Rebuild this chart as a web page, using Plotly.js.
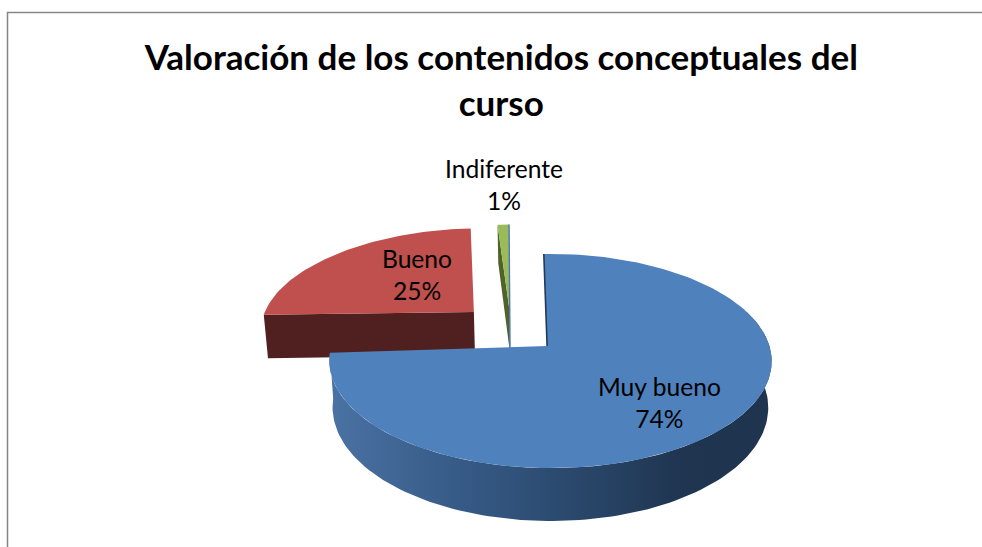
<!DOCTYPE html>
<html>
<head>
<meta charset="utf-8">
<script src="https://cdn.plot.ly/plotly-3.0.1.min.js"></script>
<style>html,body{margin:0;padding:0;background:#fff;overflow:hidden}#chart{width:982px;height:547px}</style>
</head>
<body>
<div id="chart"></div>
<script>
// data
const categories = ['Muy bueno', 'Bueno', 'Indiferente'];
const values = [74, 25, 1];
const titleLines = ['Valoración de los contenidos conceptuales del', 'curso'];

// styling of each slice
const topColors = ['#4f81bd', '#c0504d', '#9bbb59'];
const faceColors = ['#1f3a5c', '#4f201f', '#4f6228'];
const pulls = [[0.02, 0], [-0.345, -0.33], [-0.175, -0.38]];
const apexNudge = [[-0.015, 0], [0, -0.01], [0, 0.02]];
const turn = [-1.8, 2.5, -1.5];
const labelAt = [[659, 402.5], [416.5, 274], [504, 184]];

// view of the tilted disc
const CX = 546, CY = 346, RX = 219, RY = 105, P = 0.14, DEPTH = 45.5, SHRINK = 0.985;
function project(u, v, low) {
  const w = 1 - P * v;
  let x = CX + RX * u / w, y = CY + RY * v / w;
  if (low) { x = CX + (x - CX) * SHRINK; y += DEPTH / w; }
  return [x, y];
}
function ringPoint(i, deg, low) {
  const a = deg * Math.PI / 180;
  return project(pulls[i][0] + Math.sin(a), pulls[i][1] - Math.cos(a), low);
}
function apex(i, low) { return project(pulls[i][0] + apexNudge[i][0], pulls[i][1] + apexNudge[i][1], low); }
function arc(i, a0, a1, low) {
  const pts = [], n = Math.max(2, Math.ceil(Math.abs(a1 - a0) / 1.5));
  for (let k = 0; k <= n; k++) pts.push(ringPoint(i, a0 + (a1 - a0) * k / n, low));
  return pts;
}
function poly(name, pts, extra) {
  return Object.assign({
    type: 'scatter', mode: 'lines', name: name, hoverinfo: 'skip', showlegend: false,
    x: pts.map(p => p[0]), y: pts.map(p => p[1]), fill: 'toself', line: {width: 0}
  }, extra);
}

// slice angles, clockwise: first slice starts at the top
const total = values.reduce((a, b) => a + b, 0);
const spans = [];
let from = 0;
values.forEach((v, i) => {
  const sweep = v / total * 360;
  spans.push([from + turn[i], from + sweep + (i === 2 ? turn[i] : 0)]);
  from += sweep;
});

const traces = [];
// Bueno
traces.push(poly(categories[1] + ' cara', [ringPoint(1, spans[1][0], false), apex(1, false), apex(1, true), ringPoint(1, spans[1][0], true)], {fillcolor: faceColors[1]}));
traces.push(poly(categories[1], [apex(1, false)].concat(arc(1, spans[1][0], spans[1][1], false)), {fillcolor: topColors[1]}));
// Indiferente
const g0 = spans[2][0], g1 = spans[2][1];
traces.push(poly(categories[2] + ' cara', [ringPoint(2, g0, false), apex(2, false), apex(2, true), ringPoint(2, g0, true)], {fillcolor: faceColors[2]}));
traces.push(poly(categories[2], [apex(2, false)].concat(arc(2, g0, g1, false)), {fillcolor: topColors[2]}));
const edge = [ringPoint(2, g1, false), apex(2, true)];
traces.push({type: 'scatter', mode: 'lines', name: categories[2] + ' borde', hoverinfo: 'skip', showlegend: false,
  x: edge.map(p => p[0]), y: edge.map(p => p[1]), line: {color: '#4f74b8', width: 1.4}});
// Muy bueno: rim, then the top
const end0 = spans[0][1];
const rimTop = arc(0, 70, end0, false), rimLow = arc(0, 70, end0, true).reverse();
traces.push(poly(categories[0] + ' lado', rimTop.concat(rimLow), {
  fillgradient: {type: 'horizontal', colorscale: [[0, '#4a72a4'], [0.3, '#365a86'], [0.55, '#2a486c'], [0.8, '#1f3550'], [1, '#1f344e']]}
}));
traces.push(poly(categories[0], [apex(0, false)].concat(arc(0, spans[0][0], end0, false)), {fillcolor: topColors[0]}));
const cut = [ringPoint(0, spans[0][0], false), apex(0, false)];
traces.push({type: 'scatter', mode: 'lines', name: categories[0] + ' corte', hoverinfo: 'skip', showlegend: false,
  x: cut.map(p => p[0]), y: cut.map(p => p[1]), line: {color: faceColors[0], width: 1.6}});

const labelFont = {family: 'Lato, "Noto Sans", sans-serif', size: 24.6, color: '#000'};
const layout = {
  width: 982, height: 547, margin: {l: 0, r: 0, t: 0, b: 0},
  paper_bgcolor: '#fff', plot_bgcolor: '#fff', showlegend: false,
  title: {
    text: titleLines.join('<br>'),
    font: {family: 'Lato, "Noto Sans", sans-serif', size: 35, weight: 700, color: '#000'},
    x: 0.5105, xanchor: 'center', y: 0.872, yanchor: 'bottom', yref: 'paper', automargin: false
  },
  xaxis: {range: [0, 982], visible: false, fixedrange: true},
  yaxis: {range: [547, 0], visible: false, fixedrange: true},
  annotations: categories.map((c, i) => ({
    x: labelAt[i][0], y: labelAt[i][1], xref: 'x', yref: 'y', showarrow: false,
    text: c + '<br>' + Math.round(values[i] / total * 100) + '%', font: labelFont, align: 'center'
  })),
  shapes: [
    {type: 'line', xref: 'x', yref: 'y', x0: 7, x1: 982, y0: 12.5, y1: 12.5, line: {color: '#868686', width: 1.5}},
    {type: 'line', xref: 'x', yref: 'y', x0: 7.5, x1: 7.5, y0: 12, y1: 547, line: {color: '#868686', width: 1.5}}
  ]
};
Plotly.newPlot('chart', traces, layout, {displayModeBar: false, staticPlot: true});
</script>
</body>
</html>
